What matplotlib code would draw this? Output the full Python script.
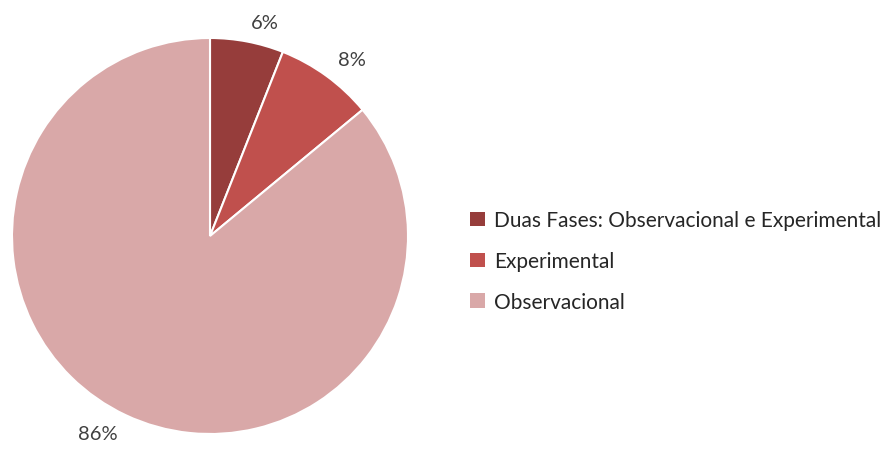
import matplotlib
matplotlib.use("Agg")
import matplotlib.pyplot as plt
from matplotlib.patches import Patch

categories = ["Duas Fases: Observacional e Experimental", "Experimental", "Observacional"]
values = [6, 8, 86]
colors = ["#963d3b", "#c0504d", "#d9a8a8"]

plt.rcParams['font.family'] = ['Lato', 'DejaVu Sans']

W, H = 895, 452
fig = plt.figure(figsize=(W / 100, H / 100), dpi=100)
cx, cy, r = 210, 237, 198
ax = fig.add_axes([(cx - r) / W, (H - cy - r) / H, 2 * r / W, 2 * r / H])
wedges, texts = ax.pie(values, colors=colors, startangle=90, counterclock=False,
                       labels=[f"{v}%" for v in values], labeldistance=1.1,
                       wedgeprops=dict(edgecolor="white", linewidth=1.5),
                       textprops=dict(fontsize=14.5, color="#404040"))
ax.set_xlim(-1, 1)
ax.set_ylim(-1, 1)
ax.set_aspect("equal")
ax.axis("off")

handles = [Patch(facecolor=c, edgecolor="none") for c in colors]
fig.legend(handles, categories, loc="upper left", bbox_to_anchor=(462 / W, 1 - 203 / H),
           frameon=False, fontsize=15, labelcolor="#262626", handlelength=0.7, handleheight=0.7,
           handletextpad=0.45, labelspacing=1.0, borderaxespad=0)

fig.savefig("out.png", dpi=100)
